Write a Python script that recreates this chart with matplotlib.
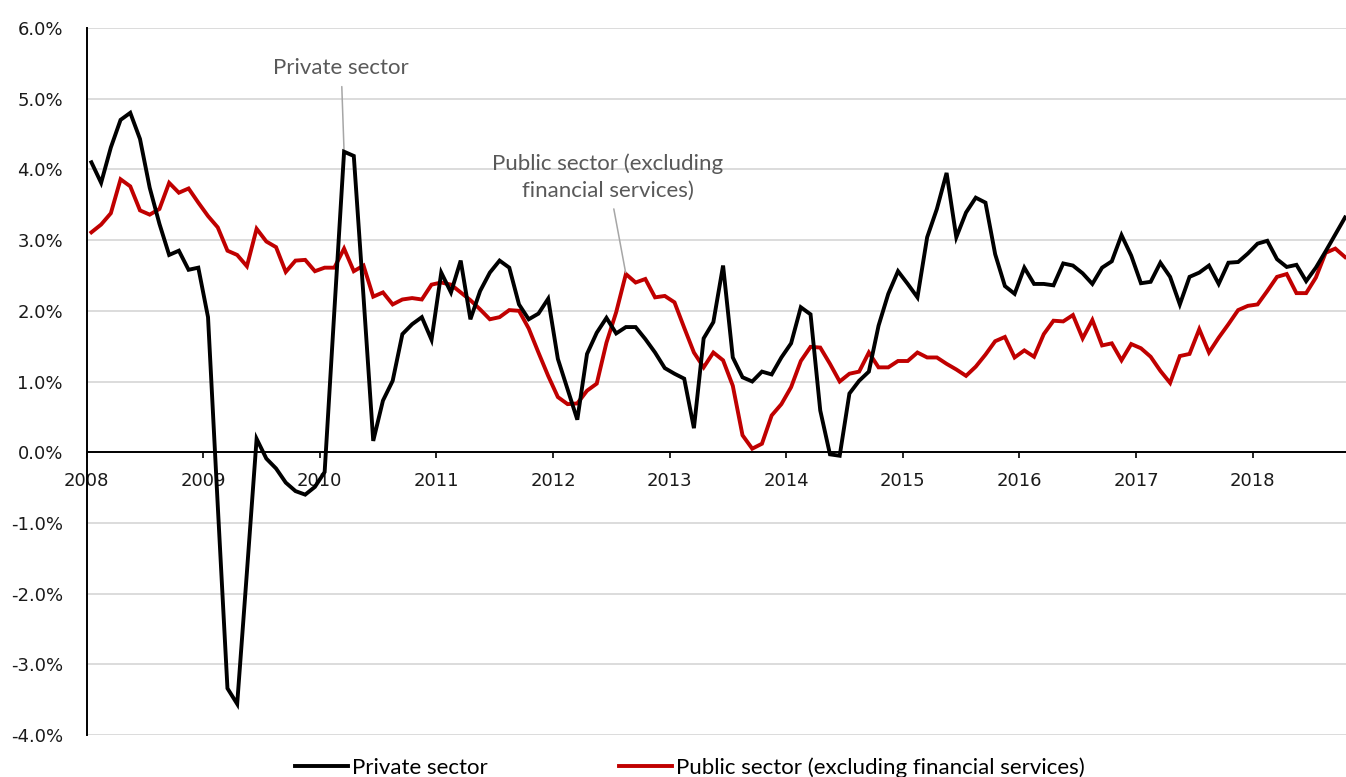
import matplotlib
matplotlib.use("Agg")
import matplotlib.pyplot as plt
import numpy as np
from matplotlib.ticker import FixedLocator, FuncFormatter, MultipleLocator

# Monthly annual growth rates (%), Jan 2008 .. Oct 2018
private_sector = [
    4.10, 3.81, 4.31, 4.70, 4.80, 4.43, 3.74, 3.23, 2.79, 2.85, 2.58, 2.61,
    1.91, -0.75, -3.34, -3.56, -1.70, 0.19, -0.09, -0.23, -0.43, -0.55, -0.60, -0.49,
    -0.28, 2.00, 4.25, 4.19, 2.20, 0.16, 0.73, 1.01, 1.67, 1.81, 1.91, 1.59,
    2.54, 2.26, 2.71, 1.88, 2.28, 2.54, 2.71, 2.61, 2.09, 1.88, 1.96, 2.17,
    1.32, 0.89, 0.46, 1.39, 1.69, 1.90, 1.68, 1.77, 1.77, 1.60, 1.41, 1.19,
    1.11, 1.04, 0.34, 1.61, 1.84, 2.64, 1.34, 1.06, 1.00, 1.14, 1.10, 1.34,
    1.54, 2.05, 1.95, 0.59, -0.03, -0.05, 0.83, 1.01, 1.14, 1.79, 2.24, 2.56,
    2.38, 2.19, 3.04, 3.44, 3.95, 3.04, 3.39, 3.60, 3.53, 2.80, 2.35, 2.24,
    2.61, 2.38, 2.38, 2.36, 2.67, 2.64, 2.53, 2.38, 2.61, 2.70, 3.07, 2.78,
    2.39, 2.41, 2.68, 2.48, 2.09, 2.48, 2.54, 2.64, 2.38, 2.68, 2.69, 2.81,
    2.95, 2.99, 2.73, 2.62, 2.65, 2.42, 2.61, 2.84, 3.08, 3.32,
]
public_sector = [
    3.11, 3.22, 3.38, 3.86, 3.76, 3.42, 3.36, 3.44, 3.81, 3.67, 3.73, 3.53,
    3.34, 3.18, 2.85, 2.79, 2.63, 3.16, 2.98, 2.90, 2.55, 2.71, 2.72, 2.56,
    2.61, 2.61, 2.88, 2.56, 2.64, 2.20, 2.26, 2.09, 2.16, 2.18, 2.16, 2.37,
    2.40, 2.37, 2.26, 2.15, 2.02, 1.88, 1.91, 2.01, 2.00, 1.75, 1.41, 1.08,
    0.78, 0.68, 0.69, 0.87, 0.97, 1.55, 1.98, 2.52, 2.40, 2.45, 2.19, 2.21,
    2.12, 1.76, 1.41, 1.20, 1.41, 1.30, 0.94, 0.24, 0.05, 0.12, 0.52, 0.68,
    0.92, 1.29, 1.49, 1.48, 1.25, 1.00, 1.11, 1.14, 1.41, 1.20, 1.20, 1.29,
    1.29, 1.41, 1.34, 1.34, 1.25, 1.17, 1.08, 1.21, 1.38, 1.57, 1.63, 1.34,
    1.44, 1.35, 1.67, 1.86, 1.85, 1.94, 1.61, 1.87, 1.51, 1.54, 1.30, 1.53,
    1.47, 1.35, 1.15, 0.98, 1.36, 1.39, 1.74, 1.41, 1.62, 1.81, 2.01, 2.07,
    2.09, 2.28, 2.48, 2.52, 2.25, 2.25, 2.47, 2.82, 2.88, 2.76,
]
years = list(range(2008, 2019))

# each month sits in the middle of its slot on the date axis
months = np.arange(len(private_sector)) + 0.5
private = np.array(private_sector)
public = np.array(public_sector)

BLACK = "#000000"
RED = "#C00000"
GRID = "#D9D9D9"
NOTE = "#595959"

fig = plt.figure(figsize=(13.46, 7.77), dpi=100)
ax = fig.add_axes([0.0643, 0.054, 0.9357, 0.910])

l1, = ax.plot(months, private, color=BLACK, lw=2.8, solid_joinstyle="miter",
              label="Private sector", zorder=4)
l2, = ax.plot(months, public, color=RED, lw=2.8, solid_joinstyle="miter",
              label="Public sector (excluding financial services)", zorder=3)

ax.set_xlim(0, 129.6)
ax.set_ylim(-4, 6)

# axes: left spine kept, bottom spine runs along zero
for side in ("top", "right"):
    ax.spines[side].set_visible(False)
ax.spines["left"].set_linewidth(1.4)
ax.spines["bottom"].set_position(("data", 0))
ax.spines["bottom"].set_linewidth(1.4)

ax.xaxis.set_major_locator(FixedLocator([12 * k for k in range(len(years))]))
ax.set_xticklabels([str(y) for y in years])
ax.tick_params(axis="x", direction="out", length=4.5, width=1.2, pad=10,
               labelsize=13, labelcolor="#1a1a1a")

ax.yaxis.set_major_locator(MultipleLocator(1))
ax.yaxis.set_major_formatter(FuncFormatter(lambda v, _: f"{v:.1f}%"))
ax.tick_params(axis="y", length=0, pad=17, labelsize=13, labelcolor="#1a1a1a")

ax.grid(axis="y", color=GRID, lw=1.3, zorder=0)
ax.set_axisbelow(True)

# series call-outs
ax.annotate("Private sector", xy=(months[26], private[26]),
            xytext=(26.2, 5.43), ha="center", va="center",
            fontsize=16, family="Lato", color=NOTE,
            arrowprops=dict(arrowstyle="-", color="#A6A6A6", lw=1.1,
                            shrinkA=4, shrinkB=1))
ax.annotate("Public sector (excluding\nfinancial services)",
            xy=(months[55], public[55]), xytext=(53.65, 3.89),
            ha="center", va="center", fontsize=16, family="Lato",
            color=NOTE, linespacing=1.4,
            arrowprops=dict(arrowstyle="-", color="#A6A6A6", lw=1.1,
                            shrinkA=4, shrinkB=1))

fig.legend(handles=[l1, l2], loc="center", bbox_to_anchor=(0.5126, 0.012),
           ncol=2, frameon=False, prop={"family": "Lato", "size": 16},
           handlelength=2.4, handletextpad=0.18, columnspacing=5.9)

fig.savefig("out.png", dpi=100)
